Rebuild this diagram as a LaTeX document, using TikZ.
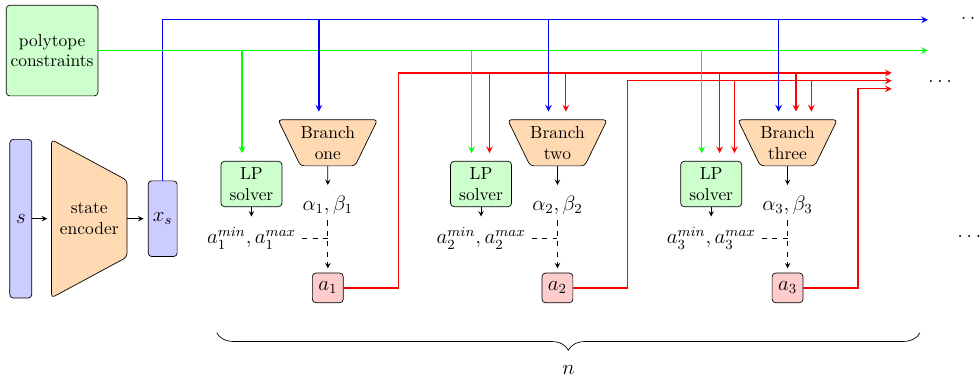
\documentclass[tikz,border=0pt]{standalone}
\usepackage{amsmath}
\usepackage{xcolor}
\usepackage{tikz}
\usetikzlibrary{shapes,arrows,backgrounds,decorations.pathreplacing}

\begin{document}
\begin{tikzpicture}[
    box/.style={draw, rectangle, rounded corners=2pt, align=center},
    sym/.style={font=\large},
    feat/.style={box, sym, fill=blue!20, inner sep=2pt},
    lp/.style={box, fill=green!20, minimum width=35pt, minimum height=26pt},
    act/.style={box, sym, fill=red!20, inner sep=2pt, minimum width=17.7pt,
                minimum height=17pt},
    branch/.style={draw, trapezium, trapezium angle=64, shape border rotate=180,
                   rounded corners=2pt, fill=orange!30, align=center,
                   inner xsep=0pt, inner ysep=3.7pt},
    arrow/.style={->, >=stealth, shorten >=2.5pt},
    drop/.style={->, >=stealth, line width=0.7pt, shorten >=4.5pt},
    bus/.style={->, >=stealth, line width=0.7pt}
]
\useasboundingbox (0,0) rectangle (19.76,7.68);

% Inputs and encoder
\node[box, fill=green!20, inner sep=2pt, minimum width=52.6pt,
      minimum height=52pt] (poly) at (1.05,6.66) {polytope\\constraints};
\node[feat, minimum width=12.6pt, minimum height=91pt] (s) at (0.42,3.27) {$s$};
\node[align=center, minimum width=42.9pt, minimum height=90.3pt] (enc)
      at (1.80,3.27) {state\\encoder};
\begin{scope}[on background layer]
  \draw[fill=orange!30, rounded corners=2pt] (enc.north west)
    -- ([yshift=-0.82cm]enc.north east) -- ([yshift=0.82cm]enc.south east)
    -- (enc.south west) -- cycle;
\end{scope}
\node[feat, minimum width=16.6pt, minimum height=43.4pt] (xs) at (3.28,3.27) {$x_s$};

\draw[arrow] (s) -- (enc);
\draw[arrow] (enc) -- (xs);

% Bus ends
\coordinate (blueend) at (18.71,7.28);
\coordinate (redend1) at (17.98,6.21);
\coordinate (redend2) at (17.98,6.05);
\coordinate (redend3) at (17.98,5.89);

\draw[bus, blue] (xs.north) |- (blueend);
\draw[bus, green] (poly.east) -- (poly.east -| blueend);

% Branch one
\node[branch] (b1) at (6.61,4.80) {Branch\\one};
\node[sym] (al1) at (6.61,3.55) {$\alpha_1, \beta_1$};
\node[lp] (lp1) at (5.07,3.97) {LP\\solver};
\node[sym] (am1) at (5.07,2.88) {$a_1^{min}, a_1^{max}$};
\node[act] (a1) at (6.61,1.875) {$a_1$};

\draw[arrow] (b1) -- (al1);
\draw[arrow] (lp1) -- (am1);
\draw[arrow, dashed] (al1) -- (a1);
\draw[dashed] (am1.east) -- (am1.east -| al1);
\draw[bus, red] (a1.east) -- ++(1.1,0) |- (redend1);

% Branch two
\node[branch] (b2) at (11.24,4.80) {Branch\\two};
\node[sym] (al2) at (11.24,3.55) {$\alpha_2, \beta_2$};
\node[lp] (lp2) at (9.70,3.97) {LP\\solver};
\node[sym] (am2) at (9.70,2.88) {$a_2^{min}, a_2^{max}$};
\node[act] (a2) at (11.24,1.875) {$a_2$};

\draw[arrow] (b2) -- (al2);
\draw[arrow] (lp2) -- (am2);
\draw[arrow, dashed] (al2) -- (a2);
\draw[dashed] (am2.east) -- (am2.east -| al2);
\draw[bus, red] (a2.east) -- ++(1.1,0) |- (redend2);

% Branch three
\node[branch] (b3) at (15.88,4.80) {Branch\\three};
\node[sym] (al3) at (15.88,3.55) {$\alpha_3, \beta_3$};
\node[lp] (lp3) at (14.34,3.97) {LP\\solver};
\node[sym] (am3) at (14.34,2.88) {$a_3^{min}, a_3^{max}$};
\node[act] (a3) at (15.88,1.875) {$a_3$};

\draw[arrow] (b3) -- (al3);
\draw[arrow] (lp3) -- (am3);
\draw[arrow, dashed] (al3) -- (a3);
\draw[dashed] (am3.east) -- (am3.east -| al3);
\draw[bus, red] (a3.east) -- ++(1.1,0) |- (redend3);

% State and constraints into every branch
\draw[drop, blue] ([xshift=-0.18cm]b1.north |- blueend) -- ([xshift=-0.18cm]b1.north);
\draw[drop, blue] ([xshift=-0.18cm]b2.north |- blueend) -- ([xshift=-0.18cm]b2.north);
\draw[drop, blue] ([xshift=-0.18cm]b3.north |- blueend) -- ([xshift=-0.18cm]b3.north);
\draw[drop, green] ([xshift=-0.19cm]lp1.north |- poly.east) -- ([xshift=-0.19cm]lp1.north);
\draw[drop, green] ([xshift=-0.19cm]lp2.north |- poly.east) -- ([xshift=-0.19cm]lp2.north);
\draw[drop, green] ([xshift=-0.19cm]lp3.north |- poly.east) -- ([xshift=-0.19cm]lp3.north);

% Earlier actions into later branches
\draw[drop, red] ([xshift=0.17cm]lp2.north |- redend1) -- ([xshift=0.17cm]lp2.north);
\draw[drop, red] ([xshift=0.17cm]b2.north |- redend1) -- ([xshift=0.17cm]b2.north);
\draw[drop, red] ([xshift=0.17cm]lp3.north |- redend1) -- ([xshift=0.17cm]lp3.north);
\draw[drop, red] ([xshift=0.17cm]b3.north |- redend1) -- ([xshift=0.17cm]b3.north);
\draw[drop, red] ([xshift=0.47cm]lp3.north |- redend2) -- ([xshift=0.47cm]lp3.north);
\draw[drop, red] ([xshift=0.48cm]b3.north |- redend2) -- ([xshift=0.48cm]b3.north);

% Further branches
\node[sym] (dtop) at (19.65,7.30) {$\dots$};
\node[sym] (dmid) at (18.99,6.04) {$\dots$};
\node[sym] (dbot) at (19.58,2.92) {$\dots$};

% Number of branches
\coordinate (brl) at (4.37,0.97);
\coordinate (brr) at (18.55,0.97);
\draw[decorate, decoration={brace, mirror, amplitude=10pt}] (brl) -- (brr)
  node[sym, midway, below=15pt] (n) {$n$};

\end{tikzpicture}
\end{document}
